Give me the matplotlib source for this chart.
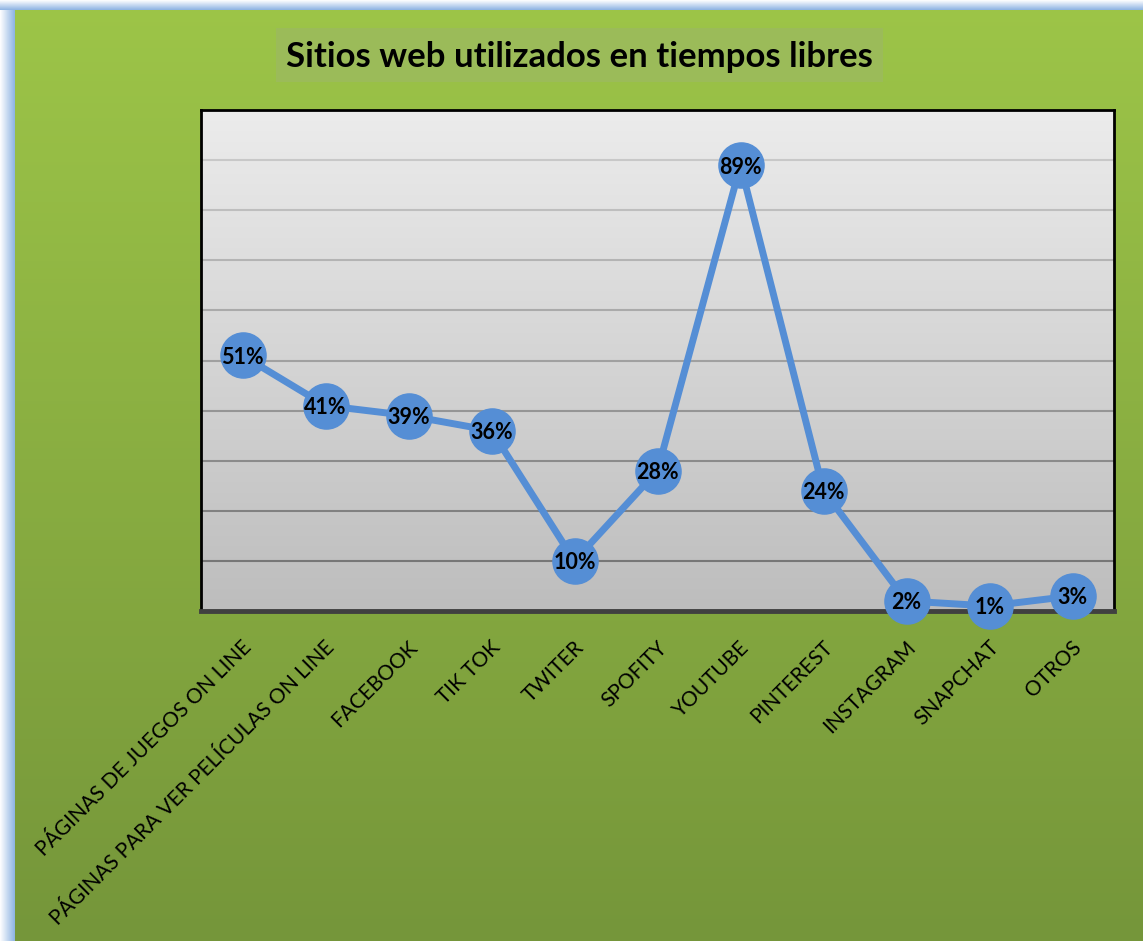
import numpy as np
import matplotlib
matplotlib.use("Agg")
import matplotlib.pyplot as plt
import matplotlib.transforms as mtransforms
from matplotlib.colors import LinearSegmentedColormap
from matplotlib.patches import Rectangle

categories = ["PÁGINAS DE JUEGOS ON LINE", "PÁGINAS PARA VER PELÍCULAS ON LINE",
              "FACEBOOK", "TIK TOK", "TWITER", "SPOFITY", "YOUTUBE", "PINTEREST",
              "INSTAGRAM", "SNAPCHAT", "OTROS"]
values = [51, 41, 39, 36, 10, 28, 89, 24, 2, 1, 3]
value_labels = ["51%", "41%", "39%", "36%", "10%", "28%", "89%", "24%", "2%", "1%", "3%"]
title = "Sitios web utilizados en tiempos libres"

plt.rcParams['font.family'] = ['Lato', 'DejaVu Sans']

W, H = 1143, 941
fig = plt.figure(figsize=(W / 100, H / 100), dpi=100)

# background (green gradient + blue glow on left/top)
bg = fig.add_axes([0, 0, 1, 1], zorder=-10)
bg.set_axis_off()
bg.set_xlim(0, W)
bg.set_ylim(H, 0)
green = LinearSegmentedColormap.from_list("g", ["#9dc548", "#75963a"])
grad = np.linspace(0, 1, 256).reshape(-1, 1)
bg.imshow(grad, cmap=green, extent=[0, W, H, 0], aspect='auto', zorder=0)
glow = LinearSegmentedColormap.from_list("b", ["#ffffff", "#c6d9f1", "#8db3e2"])
gx = np.linspace(0, 1, 64).reshape(1, -1)
bg.imshow(gx, cmap=glow, extent=[0, 15, H, 0], aspect='auto', zorder=1)
gy = np.linspace(0, 1, 64).reshape(-1, 1)
bg.imshow(gy, cmap=glow, extent=[0, W, 10, 0], aspect='auto', zorder=1)
# title box
bg.add_patch(Rectangle((276, 28), 607, 54, facecolor="#9bbb59", edgecolor="none", zorder=2))
bg.text(579, 57, title, ha='center', va='center', fontsize=25, fontweight='bold',
        color='black', zorder=3)

# plot area
ax = fig.add_axes([201 / W, 1 - 611 / H, 913 / W, 501 / H])
x = np.arange(len(categories))
ax.set_xlim(-0.5, len(categories) - 0.5)
ax.set_ylim(0, 100)
gray = LinearSegmentedColormap.from_list("p", ["#bdbdbd", "#ececec"])
ax.imshow(np.linspace(0, 1, 256).reshape(-1, 1), cmap=gray, origin='lower',
          extent=[-0.5, len(categories) - 0.5, 0, 100], aspect='auto', zorder=0)
for i, yv in enumerate(range(10, 100, 10)):
    t = i / 8
    c = np.array([0x77, 0x77, 0x77]) * (1 - t) + np.array([0xc8, 0xc8, 0xc8]) * t
    ax.axhline(yv, color=c / 255, lw=1.5, zorder=1)

ax.plot(x, values, color="#558ed5", lw=5, zorder=3, solid_capstyle='round')
ax.plot(x, values, 'o', ms=32.5, color="#558ed5", mec="#558ed5", zorder=4, clip_on=False)
for xi, v, lab in zip(x, values, value_labels):
    ax.text(xi, v - 0.4, lab, ha='center', va='center', fontsize=15.5, fontweight='bold',
            color='black', zorder=5, clip_on=False)

for s in ['left', 'top', 'right']:
    ax.spines[s].set_color('black')
    ax.spines[s].set_linewidth(2)
ax.spines['bottom'].set_color('#404040')
ax.spines['bottom'].set_linewidth(3.5)
ax.set_yticks([])
ax.set_xticks(x)
ax.set_xticklabels(categories, rotation=45, ha='right', va='center', rotation_mode='anchor',
                   fontsize=15)
ax.tick_params(axis='x', length=0, pad=24)
offset = mtransforms.ScaledTranslation(6 / 100, 0, fig.dpi_scale_trans)
for lbl in ax.get_xticklabels():
    lbl.set_transform(lbl.get_transform() + offset)

fig.savefig("out.png", dpi=100)
